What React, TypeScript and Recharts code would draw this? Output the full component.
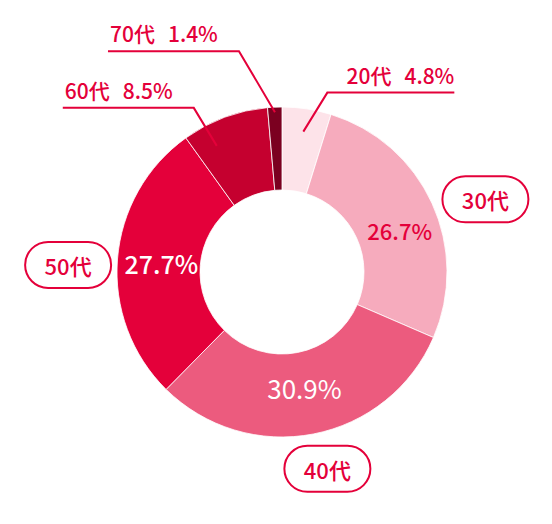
import { PieChart, Pie, Cell } from 'recharts';

// 年代別の構成比（%）
const ageGroups = ['20代', '30代', '40代', '50代', '60代', '70代'];
const shares = [4.8, 26.7, 30.9, 27.7, 8.5, 1.4];
const sliceColors = ['#fde3e9', '#f6abbd', '#ec5b7e', '#e4003a', '#c5002f', '#7b0020'];

const RED = '#e4003a';
const FONT = '"Noto Sans CJK JP", "Noto Sans", sans-serif';
const RAD = Math.PI / 180;

// how each slice is labelled: turn = degrees clockwise from the slice middle
const labelStyle: Record<string, any> = {
  '20代': { kind: 'leader', r: 142, turn: 0, elbowDx: 24, elbowDy: -39, run: 127 },
  '30代': { kind: 'pill', r: 216, turn: 5, inR: 125, inTurn: 5, inSize: 22, inColor: RED, inWeight: 500 },
  '40代': { kind: 'pill', r: 202, turn: -2, inR: 118, inTurn: 0, inSize: 26, inColor: '#fff', inWeight: 400 },
  '50代': { kind: 'pill', r: 214, turn: -2.6, inR: 121, inTurn: 0, inSize: 25, inColor: '#fff', inWeight: 500 },
  '60代': { kind: 'leader', r: 142, turn: -7, elbowDx: -23, elbowDy: -38, run: -131 },
  '70代': { kind: 'leader', r: 160, turn: 0, elbowDx: -36, elbowDy: -61, run: -131 },
};

const data = ageGroups.map((name, i) => ({ name, value: shares[i] }));

const polar = (cx: number, cy: number, r: number, angle: number) => ({
  x: cx + r * Math.cos(-angle * RAD),
  y: cy + r * Math.sin(-angle * RAD),
});

const SliceLabel = (props: any) => {
  const { cx, cy, midAngle, name, value } = props;
  const s = labelStyle[name];
  if (!s) return null;
  const pct = `${Number(value).toFixed(1)}%`;

  if (s.kind === 'leader') {
    const a = polar(cx, cy, s.r, midAngle - s.turn);
    const ex = a.x + s.elbowDx;
    const ey = a.y + s.elbowDy;
    const endX = ex + s.run;
    const toRight = s.run > 0;
    return (
      <g>
        <polyline
          points={`${a.x},${a.y} ${ex},${ey} ${endX},${ey}`}
          fill="none"
          stroke={RED}
          strokeWidth={2}
        />
        <text
          x={toRight ? endX : endX + 2}
          y={ey - 9}
          textAnchor={toRight ? 'end' : 'start'}
          fill={RED}
          fontSize={21}
          fontWeight={500}
          fontFamily={FONT}
        >
          <tspan>{name}</tspan>
          <tspan dx={13}>{pct}</tspan>
        </text>
      </g>
    );
  }

  const p = polar(cx, cy, s.r, midAngle - s.turn);
  const t = polar(cx, cy, s.inR, midAngle - s.inTurn);
  return (
    <g>
      <rect
        x={p.x - 43}
        y={p.y - 23}
        width={86}
        height={46}
        rx={23}
        fill="#fff"
        stroke={RED}
        strokeWidth={2}
      />
      <text
        x={p.x}
        y={p.y}
        textAnchor="middle"
        dominantBaseline="central"
        fill={RED}
        fontSize={22}
        fontWeight={500}
        fontFamily={FONT}
      >
        {name}
      </text>
      <text
        x={t.x}
        y={t.y}
        textAnchor="middle"
        dominantBaseline="central"
        fill={s.inColor}
        fontSize={s.inSize}
        fontWeight={s.inWeight}
        fontFamily={FONT}
      >
        {pct}
      </text>
    </g>
  );
};

export default function App() {
  return (
    <div style={{ position: 'absolute', left: 0, top: 0, width: 552, height: 524, background: '#fff' }}>
      <PieChart width={552} height={524} margin={{ top: 0, right: 0, bottom: 0, left: 0 }}>
        <Pie
          data={data}
          dataKey="value"
          nameKey="name"
          cx={282}
          cy={272}
          innerRadius={82}
          outerRadius={165}
          startAngle={90}
          endAngle={-270}
          stroke="#fff"
          strokeWidth={0.8}
          label={SliceLabel}
          labelLine={false}
          isAnimationActive={false}
        >
          {data.map((d, i) => (
            <Cell key={d.name} fill={sliceColors[i]} />
          ))}
        </Pie>
      </PieChart>
    </div>
  );
}
